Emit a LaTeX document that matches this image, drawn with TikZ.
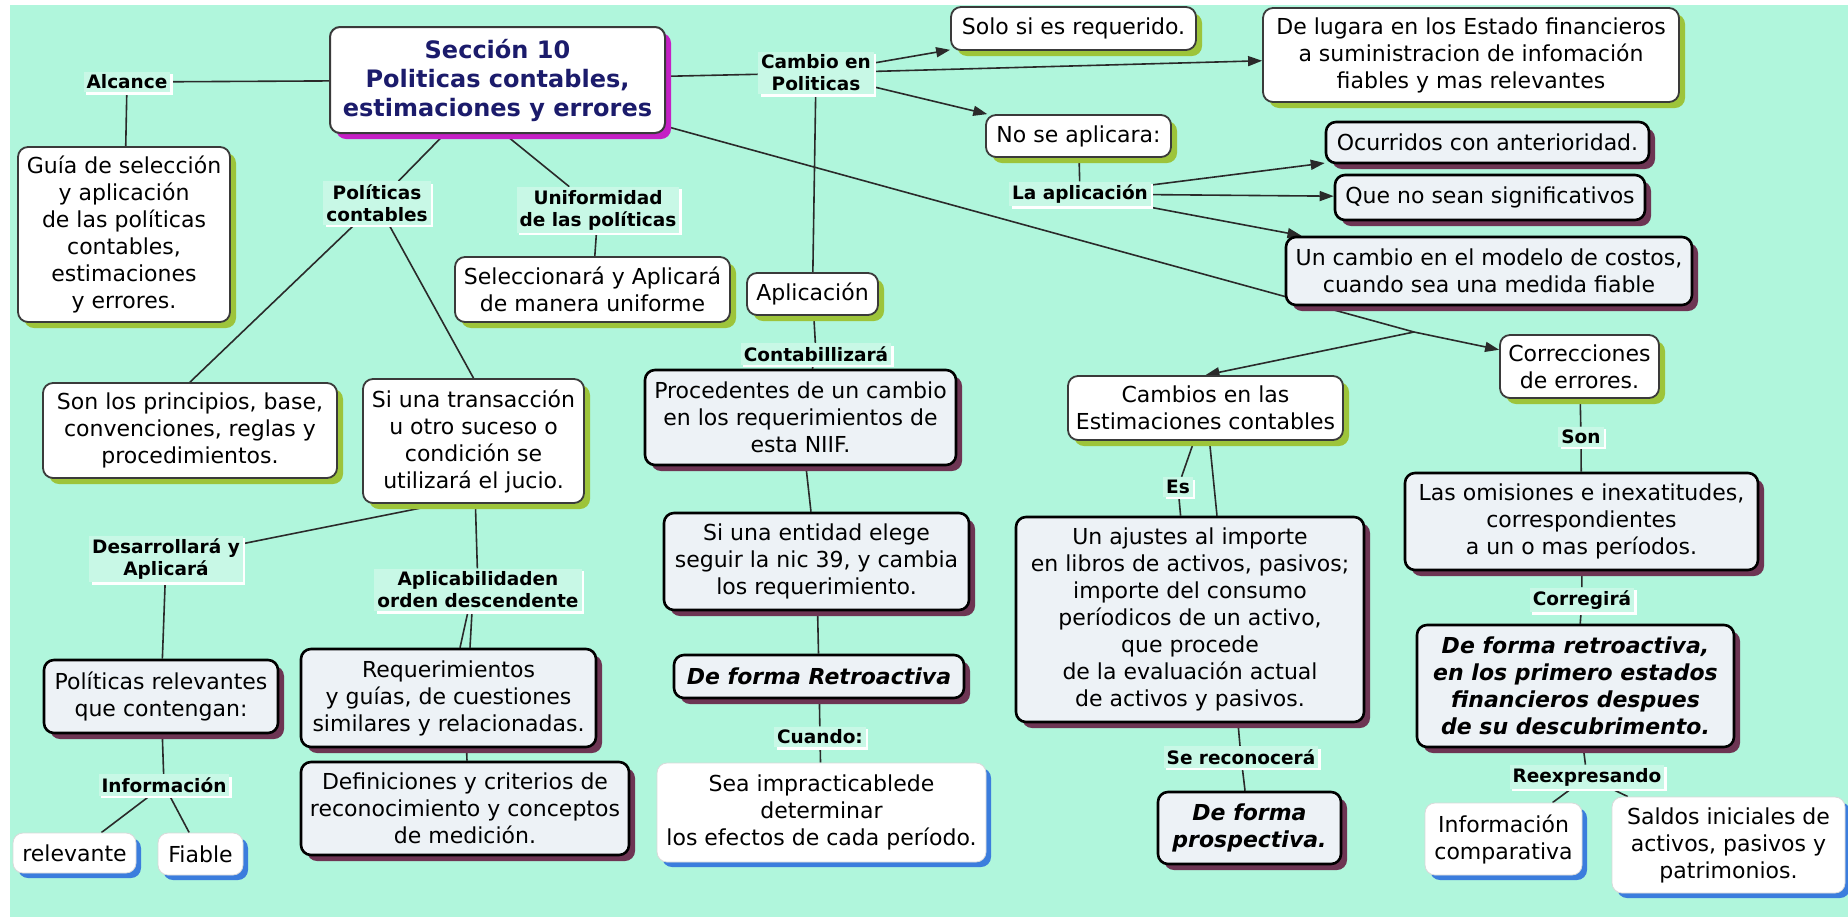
\documentclass[tikz,border=0pt]{standalone}
\usepackage{fontspec}
\setmainfont{DejaVu Sans}
\usetikzlibrary{arrows.meta,shadows}
\pgfdeclarelayer{bg}
\pgfdeclarelayer{edges}
\pgfsetlayers{bg,edges,main}
\newcommand\bxfont{\fontsize{11}{13.5}\selectfont}
\newcommand\lbfont{\fontsize{9.25}{11}\selectfont\bfseries}
\newcommand\mnfont{\fontsize{12}{14.5}\selectfont\bfseries}
\begin{document}
\begin{tikzpicture}[x=0.5pt,y=-0.5pt,
  sz/.style 2 args={minimum width=#1*0.5pt,minimum height=#2*0.5pt},
  box/.style={align=center,rounded corners=5pt,inner sep=2pt,font=\bxfont,text=black},
  gbox/.style={box,draw=bordgray,line width=0.9pt,fill=white,
    general shadow={fill=shgreen,shadow xshift=3pt,shadow yshift=-3pt}},
  mbox/.style={box,draw=black,line width=1.3pt,fill=boxgray,
    general shadow={fill=shmaroon,shadow xshift=3pt,shadow yshift=-3pt}},
  bbox/.style={box,draw=white!85!black,line width=0.4pt,fill=white,
    general shadow={fill=shblue,shadow xshift=2.5pt,shadow yshift=-2.5pt}},
  mainbox/.style={box,font=\mnfont,text=navy,draw=bordgray,line width=1pt,fill=white,
    general shadow={fill=shmag,shadow xshift=3pt,shadow yshift=-3pt}},
  lbl/.style={font=\lbfont,fill=lblbg,inner sep=1.5pt,align=center,
    general shadow={fill=white,shadow xshift=1.2pt,shadow yshift=-1.2pt}},
  conn/.style={draw=lncol,line width=0.8pt},
  arr/.style={conn,-{Triangle[length=7pt,width=5pt]}}]
\definecolor{bgmint}{HTML}{B0F6DC}
\definecolor{lblbg}{HTML}{C8F8E6}
\definecolor{lncol}{HTML}{2A2A2A}
\definecolor{bordgray}{HTML}{3A3A3A}
\definecolor{boxgray}{HTML}{EDF2F6}
\definecolor{shgreen}{HTML}{9DC43A}
\definecolor{shmaroon}{HTML}{6D3553}
\definecolor{shblue}{HTML}{3B7DDD}
\definecolor{shmag}{HTML}{C520C5}
\definecolor{navy}{HTML}{1B1B6B}
\useasboundingbox (0,0) rectangle (1848,917);
\begin{pgfonlayer}{bg}
\fill[white] (0,0) rectangle (1848,917);
\fill[bgmint] (10,5) rectangle (1848,917);
\end{pgfonlayer}

\node[mainbox,sz={335}{106}] (main) at (497.5,80) {Sección 10\\Politicas contables,\\estimaciones y errores};
\node[gbox,sz={212}{175}] (guia) at (124,234.5) {Guía de selección\\y aplicación\\de las políticas\\contables,\\estimaciones\\y errores.};
\node[gbox,sz={275}{65}] (selec) at (592.5,289.5) {Seleccionará y Aplicará\\de manera uniforme};
\node[gbox,sz={245}{43}] (solo) at (1073.5,28.5) {Solo si es requerido.};
\node[gbox,sz={416}{94}] (delugara) at (1471,55) {De lugara en los Estado financieros\\a suministracion de infomación\\fiables y mas relevantes};
\node[gbox,sz={185}{42}] (nose) at (1078.5,136) {No se aplicara:};
\node[mbox,sz={323}{41}] (ocurr) at (1487.5,142.5) {Ocurridos con anterioridad.};
\node[mbox,sz={310}{45}] (queno) at (1490,197.5) {Que no sean significativos};
\node[mbox,sz={406}{68}] (uncambio) at (1489,271) {Un cambio en el modelo de costos,\\cuando sea una medida fiable};
\node[gbox,sz={131}{42}] (aplic) at (812.5,294) {Aplicación};
\node[mbox,sz={311}{95}] (proced) at (800.5,417.5) {Procedentes de un cambio\\en los requerimientos de\\esta NIIF.};
\node[mbox,sz={305}{97}] (entidad) at (816.5,561.5) {Si una entidad elege\\seguir la nic 39, y cambia\\los requerimiento.};
\node[mbox,sz={290}{43}] (retro) at (819,676.5) {\bfseries\itshape De forma Retroactiva};
\node[bbox,sz={329}{99}] (sea) at (821.5,812.5) {Sea impracticablede\\determinar\\los efectos de cada período.};
\node[gbox,sz={275}{64}] (camest) at (1205.5,408) {Cambios en las\\Estimaciones contables};
\node[gbox,sz={159}{63}] (correc) at (1579.5,366.5) {Correcciones\\de errores.};
\node[mbox,sz={348}{205}] (ajustes) at (1190,619.5) {Un ajustes al importe\\en libros de activos, pasivos;\\importe del consumo\\períodicos de un activo,\\que procede\\de la evaluación actual\\de activos y pasivos.};
\node[mbox,sz={183}{72}] (prosp) at (1249.5,828) {\bfseries\itshape De forma\\\bfseries\itshape prospectiva.};
\node[mbox,sz={353}{97}] (omis) at (1581.5,521.5) {Las omisiones e inexatitudes,\\correspondientes\\a un o mas períodos.};
\node[mbox,sz={317}{122}] (retroact) at (1575.5,686) {\bfseries\itshape De forma retroactiva,\\\bfseries\itshape en los primero estados\\\bfseries\itshape financieros despues\\\bfseries\itshape de su descubrimento.};
\node[bbox,sz={157}{72}] (infocomp) at (1503.5,839) {Información\\comparativa};
\node[bbox,sz={233}{96}] (saldos) at (1728.5,845) {Saldos iniciales de\\activos, pasivos y\\patrimonios.};
\node[gbox,sz={294}{95}] (sonlos) at (190,430.5) {Son los principios, base,\\convenciones, reglas y\\procedimientos.};
\node[gbox,sz={221}{124}] (transac) at (473.5,441) {Si una transacción\\u otro suceso o\\condición se\\utilizará el jucio.};
\node[mbox,sz={234}{73}] (polrel) at (161,696.5) {Políticas relevantes\\que contengan:};
\node[mbox,sz={295}{98}] (requer) at (448.5,698) {Requerimientos\\y guías, de cuestiones\\similares y relacionadas.};
\node[mbox,sz={328}{93}] (defin) at (465,808.5) {Definiciones y criterios de\\reconocimiento y conceptos\\de medición.};
\node[bbox,sz={123}{40}] (relev) at (74.5,853) {relevante};
\node[bbox,sz={85}{42}] (fiable) at (200.5,854) {Fiable};

\node[lbl] (alcance) at (127,82) {Alcance};
\node[lbl] (polcont) at (377,203) {Políticas\\contables};
\node[lbl] (uniform) at (598,210) {Uniformidad\\de las políticas};
\node[lbl] (cambio) at (816,73) {Cambio en\\Politicas};
\node[lbl] (laaplic) at (1080,194) {La aplicación};
\node[lbl] (contab) at (816,354) {Contabillizará};
\node[lbl] (cuando) at (820,737) {Cuando:};
\node[lbl] (es) at (1178,487) {Es};
\node[lbl] (serecon) at (1241,757) {Se reconocerá};
\node[lbl] (son) at (1581,437) {Son};
\node[lbl] (corregira) at (1582,600) {Corregirá};
\node[lbl] (reexpr) at (1587,777) {Reexpresando};
\node[lbl] (desarr) at (166,559) {Desarrollará y\\Aplicará};
\node[lbl] (aplicab) at (478,590) {Aplicabilidaden\\orden descendente};
\node[lbl] (informacion) at (164,785) {Información};
\coordinate (jn) at (1414,332);

\begin{pgfonlayer}{edges}
\draw[conn] (main) -- (alcance);
\draw[conn] (alcance) -- (guia);
\draw[conn] (main) -- (polcont);
\draw[conn] ([xshift=3.5pt]main.south) -- (uniform);
\draw[conn] (uniform) -- (selec);
\draw[conn] (main) -- (cambio);
\draw[arr] (cambio) -- (solo);
\draw[arr] (cambio) -- (delugara);
\draw[arr] (cambio) -- (nose);
\draw[conn] (cambio) -- (aplic);
\draw[conn] (aplic) -- (contab);
\draw[conn] (contab) -- (proced);
\draw[conn] (proced) -- (entidad);
\draw[conn] (entidad) -- (retro);
\draw[conn] (retro) -- (cuando);
\draw[conn] (cuando) -- (sea);
\draw[conn] (nose) -- (laaplic);
\draw[arr] (laaplic) -- (ocurr);
\draw[arr] (laaplic) -- (queno);
\draw[arr] (laaplic) -- (uncambio);
\draw[conn] (main) -- (jn);
\draw[arr] (jn) -- (camest.north);
\draw[arr] (jn) -- (correc);
\draw[conn] (camest) -- (es);
\draw[conn] (es) -- (ajustes);
\draw[conn] ([xshift=2pt]camest.south) -- ([xshift=13.5pt]ajustes.north);
\draw[conn] ([xshift=24pt]ajustes.south) -- (serecon);
\draw[conn] (serecon) -- (prosp);
\draw[conn] (correc) -- (son);
\draw[conn] (son) -- (omis);
\draw[conn] (omis) -- (corregira);
\draw[conn] (corregira) -- (retroact);
\draw[conn] (retroact) -- (reexpr);
\draw[conn] (reexpr) -- (infocomp);
\draw[conn] (reexpr) -- (saldos);
\draw[conn] (polcont) -- (sonlos.north);
\draw[conn] (polcont) -- (transac.north);
\draw[conn] ([xshift=-16pt]transac.south) -- (desarr);
\draw[conn] (transac) -- (aplicab);
\draw[conn] (desarr) -- (polrel);
\draw[conn] (polrel) -- (informacion);
\draw[conn] (informacion) -- (relev);
\draw[conn] (informacion) -- (fiable);
\draw[conn] ([xshift=-5pt]aplicab.south) -- ([xshift=5.75pt]requer.north);
\draw[conn] ([xshift=-3pt]aplicab.south) -- ([xshift=10.75pt]requer.north);
\draw[conn] ([xshift=9pt]requer.south) -- ([xshift=1pt]defin.north);
\end{pgfonlayer}
\end{tikzpicture}
\end{document}
